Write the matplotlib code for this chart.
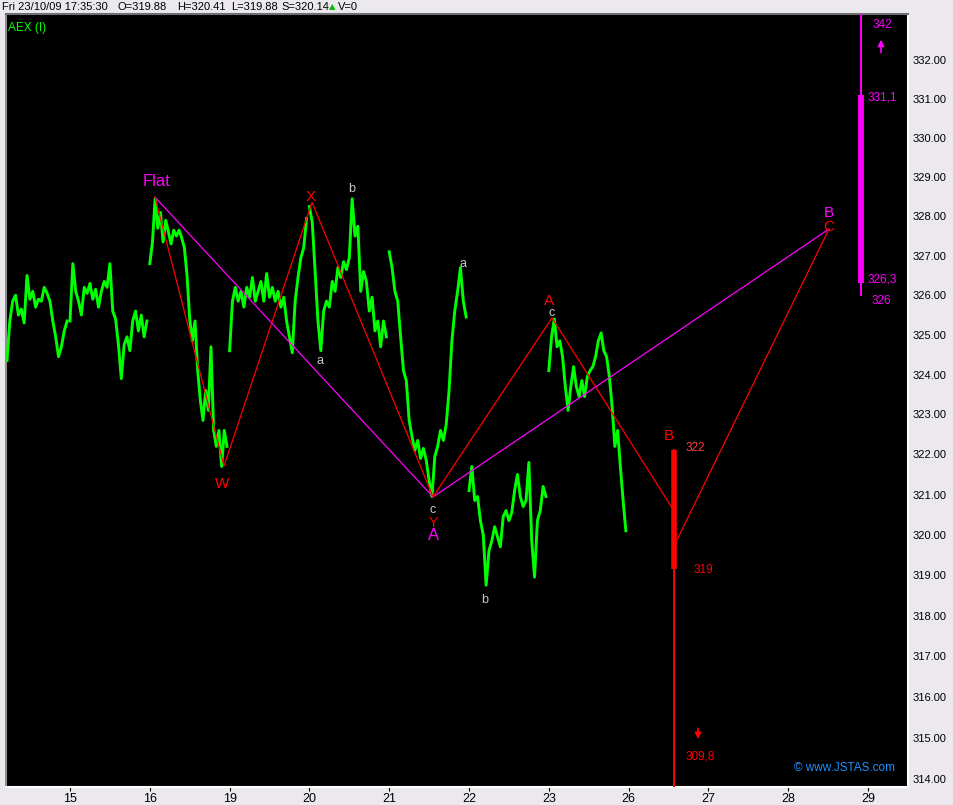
import numpy as np
import matplotlib
matplotlib.use("Agg")
import matplotlib.pyplot as plt
from matplotlib import font_manager

names = {f.name for f in font_manager.fontManager.ttflist}
NARROW = "Liberation Sans Narrow" if "Liberation Sans Narrow" in names else "Liberation Sans"
plt.rcParams["font.family"] = [NARROW, "DejaVu Sans"]

# x axis: trading days
day_labels = ["15", "16", "19", "20", "21", "22", "23", "26", "27", "28", "29"]
y_ticks = [314, 315, 316, 317, 318, 319, 320, 321, 322, 323, 324, 325, 326,
           327, 328, 329, 330, 331, 332]

# intraday AEX prices, one list per session (day 14 only partly visible)
oct14 = [324.35, 325.35, 325.85, 326.0, 325.5, 325.65, 325.3, 326.5, 325.9, 326.1,
         325.7, 325.9, 325.85, 326.2, 326.05, 325.85, 325.35, 324.95, 324.45, 324.7,
         325.1, 325.35]
oct15 = [325.35, 326.8, 326.1, 325.85, 325.5, 326.2, 326.05, 326.3, 325.9, 326.15,
         325.7, 326.1, 326.35, 326.2, 326.8, 325.6, 325.4, 324.75, 323.9, 324.75,
         324.95, 324.6, 325.35, 325.6, 325.1, 325.5, 324.95, 325.35]
oct16 = [326.8, 327.35, 328.45, 327.7, 328.1, 327.35, 327.9, 327.6, 327.3, 327.65,
         327.5, 327.65, 327.45, 327.2, 326.5, 325.4, 324.85, 325.35, 324.1, 323.35,
         322.85, 323.6, 323.1, 324.7, 322.6, 322.2, 322.6, 321.7, 322.6, 322.2]
oct19 = [324.6, 325.85, 326.2, 325.85, 326.1, 325.7, 326.2, 325.95, 326.45, 325.85,
         326.1, 326.35, 325.85, 326.55, 325.95, 326.2, 325.85, 326.1, 325.7, 325.95,
         325.35, 324.95, 324.55, 325.85, 326.45, 326.95, 327.2, 327.95]
oct20 = [328.25, 327.85, 326.6, 325.35, 324.6, 325.6, 325.85, 325.7, 326.35, 326.1,
         326.7, 326.45, 326.85, 326.65, 326.95, 328.45, 327.5, 327.75, 326.1, 326.6,
         326.35, 325.6, 325.95, 325.1, 325.35, 324.7, 325.35, 324.95]
oct21 = [327.1, 326.7, 326.1, 325.85, 324.95, 324.1, 323.85, 322.85, 322.45, 322.1,
         322.35, 321.9, 322.15, 321.85, 321.35, 320.95, 321.95, 322.2, 322.6, 322.35,
         322.75, 323.6, 324.85, 325.6, 326.1, 326.7, 325.85, 325.45]
oct22 = [321.1, 321.7, 320.85, 320.95, 320.35, 320.0, 318.75, 319.6, 319.85, 320.2,
         319.95, 319.7, 320.45, 320.6, 320.35, 320.55, 321.1, 321.5, 320.95, 320.7,
         320.85, 321.8, 319.85, 318.95, 320.35, 320.6, 321.2, 320.95]
oct23 = [324.1, 324.95, 325.4, 324.7, 324.85, 324.45, 323.7, 323.1, 323.7, 324.2,
         323.7, 323.45, 323.85, 323.45, 323.95, 324.1, 324.2, 324.45, 324.85, 325.05,
         324.6, 324.45, 323.95, 323.2, 322.2, 322.6, 321.7, 320.85, 320.1]
sessions = [(-0.79, 0.0, oct14), (0, 1, oct15), (1, 2, oct16), (2, 3, oct19),
            (3, 4, oct20), (4, 5, oct21), (5, 6, oct22), (6, 7, oct23)]

# Elliott wave count
red_wave_t = [1.065, 1.93, 3.033, 4.549, 6.04, 7.569]
red_wave_p = [328.49, 321.71, 328.36, 320.94, 325.43, 320.59]
red_bc_t = [7.569, 9.511]
red_bc_p = [319.72, 327.68]
flat_t = [1.065, 4.549, 9.511]
flat_p = [328.49, 320.94, 327.68]

# target zones
mag_x, mag_range, mag_zone = 9.912, (326.0, 342.0), (326.3, 331.1)
red_x, red_range, red_zone = 7.575, (309.8, 322.1), (319.15, 322.1)

fig = plt.figure(figsize=(9.54, 8.05), dpi=100, facecolor="#ebe9ed")
ax = fig.add_axes([6 / 954, 18 / 805, 902 / 954, 773 / 805])
ax.set_facecolor("black")

for start, end, vals in sessions:
    t = np.linspace(start, end, len(vals), endpoint=False)
    ax.plot(t, vals, color="#00ff00", lw=2.1, zorder=3)

ax.plot(flat_t, flat_p, color="#ff00ff", lw=0.9, zorder=4)
ax.plot(red_wave_t, red_wave_p, color="#ff0000", lw=0.9, zorder=4)
ax.plot(red_bc_t, red_bc_p, color="#ff0000", lw=0.9, zorder=4)

ax.plot([mag_x, mag_x], mag_range, color="#ff00ff", lw=1.4, zorder=5)
ax.plot([mag_x, mag_x], mag_zone, color="#ff00ff", lw=4.2, solid_capstyle="butt", zorder=5)
ax.plot([red_x, red_x], red_range, color="#ff0000", lw=1.4, zorder=5)
ax.plot([red_x, red_x], red_zone, color="#ff0000", lw=4.0, solid_capstyle="butt", zorder=5)

grey = "#c8c8c8"
labels = [
    (1.08, 328.9, "Flat", "#ff00ff", 12),
    (1.905, 321.25, "W", "#ff0000", 11),
    (3.02, 328.5, "X", "#ff0000", 11),
    (3.53, 328.7, "b", grey, 9),
    (3.13, 324.35, "a", grey, 9),
    (4.925, 326.8, "a", grey, 9),
    (4.55, 320.62, "c", grey, 9),
    (4.55, 320.3, "Y", "#ff0000", 10),
    (4.55, 319.98, "A", "#ff00ff", 12),
    (6.0, 325.85, "A", "#ff0000", 11),
    (6.03, 325.55, "c", grey, 9),
    (5.19, 318.38, "b", grey, 9),
    (7.5, 322.46, "B", "#ff0000", 11),
    (7.83, 322.16, "322", "#ff4040", 8.5),
    (7.94, 319.13, "319", "#ff0000", 8.5),
    (7.9, 314.54, "309,8", "#ff0000", 8.5),
    (9.51, 328.09, "B", "#ff00ff", 11),
    (9.51, 327.73, "C", "#ff0000", 11),
    (10.18, 332.9, "342", "#ff00ff", 8.5),
    (10.18, 331.05, "331,1", "#ff00ff", 8.5),
    (10.18, 326.41, "326,3", "#ff00ff", 8.5),
    (10.17, 325.85, "326", "#ff00ff", 8.5),
]
for x, y, s, c, fs in labels:
    ax.text(x, y, s, color=c, fontsize=fs, ha="center", va="center", zorder=6)

ax.annotate("", xy=(10.163, 332.6), xytext=(10.163, 332.12),
            arrowprops=dict(arrowstyle="-|>", color="#ff00ff", lw=1.2,
                            mutation_scale=9))
ax.annotate("", xy=(7.87, 314.9), xytext=(7.87, 315.3),
            arrowprops=dict(arrowstyle="-|>", color="#ff0000", lw=1.2,
                            mutation_scale=9))

ax.text(9.71, 314.27, "\u00a9 www.JSTAS.com", color="#1e90ff", fontsize=8.5,
        ha="center", va="center")
ax.text(0.002, 0.99, "AEX (I)", color="#00ff00", fontsize=8.5, ha="left", va="top",
        transform=ax.transAxes)

ax.set_yscale("log")
ax.set_ylim(313.8, 333.19)
ax.set_xlim(-0.802, 10.501)
ax.yaxis.tick_right()
ax.set_yticks(y_ticks)
ax.set_yticklabels([f"{v:.2f}" for v in y_ticks])
ax.yaxis.set_minor_locator(matplotlib.ticker.NullLocator())
ax.set_xticks(range(len(day_labels)))
ax.set_xticklabels(day_labels)
ax.tick_params(axis="y", length=0, pad=3, labelsize=8, labelcolor="black")
ax.tick_params(axis="x", length=3, width=0.8, pad=1, labelsize=9, labelcolor="black")

ax.spines["left"].set_color("#909090")
ax.spines["top"].set_color("#707070")
ax.spines["right"].set_color("white")
ax.spines["bottom"].set_color("white")
for sp in ax.spines.values():
    sp.set_linewidth(1.5)

# header line
hy = 1 - 7 / 805
head = [(2, "Fri 23/10/09 17:35:30"), (118, "O=319.88"), (177, "H=320.41"),
        (231, "L=319.88"), (281, "S=320.14"), (338, "V=0")]
for px, s in head:
    fig.text(px / 954, hy, s, fontsize=8, color="black", ha="left", va="center")
fig.text(329 / 954, hy, "\u25b2", fontsize=6, color="#00c000", ha="left", va="center",
         family="DejaVu Sans")

fig.savefig("out.png", dpi=100, facecolor=fig.get_facecolor())
